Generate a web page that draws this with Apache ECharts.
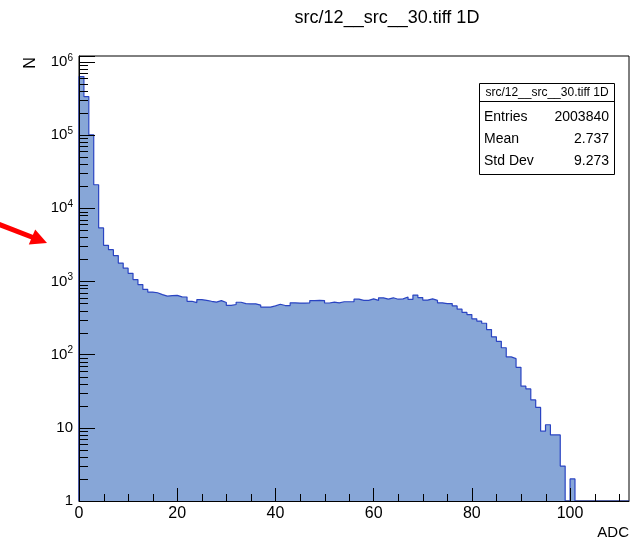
<!DOCTYPE html>
<html><head><meta charset="utf-8">
<script src="https://cdn.jsdelivr.net/npm/echarts@6/dist/echarts.min.js"></script>
<style>html,body{margin:0;padding:0;background:#fff}#c{width:635px;height:542px}</style>
</head><body><div id="c"></div>
<script>
const histTitle = 'src/12__src__30.tiff 1D';
const xAxisTitle = 'ADC';
const yAxisTitle = 'N';
const binWidth = 1;
const xMin = 0, xMax = 112;
const yMin = 1, yMax = 1.2e6;
// counts per ADC bin (bin i covers [i, i+1))
const counts = [
  628000, 335000, 100700, 20900, 5370, 3110, 2715, 2250, 1778, 1518,
  1291, 1059, 904, 778, 715, 700, 660, 628, 640, 645,
  615, 612, 535, 514, 565, 550, 535, 522, 547, 514,
  470, 483, 519, 498, 494, 494, 475, 446, 446, 463,
  487, 468, 468, 510, 505, 505, 510, 547, 550, 547,
  507, 522, 510, 527, 527, 527, 572, 550, 550, 578,
  550, 597, 572, 597, 571, 578, 612, 568, 650, 601,
  556, 578, 550, 510, 498, 498, 463, 418, 377, 352,
  308, 287, 268, 220, 175, 152, 124, 93, 88, 67,
  37, 34, 24, 19, 9, 11, 8, 8, 3, 0,
  2, 0, 0, 0, 0, 0, 0, 0, 0, 0,
  0, 0
];
const xTickLabels = [0, 20, 40, 60, 80, 100];
const xMajorStep = 20, xMinorStep = 5;
const yMinorMultipliers = [2, 3, 4, 5, 6, 7, 8, 9];
const yDecadeExponents = [0, 1, 2, 3, 4, 5];
const statsLabels = ['Entries', 'Mean', 'Std Dev'];
const statsValues = ['2003840', '2.737', '9.273'];

const FONT = 'Liberation Sans, Arial, Helvetica, sans-serif';

// outline / fill through step line
const lineData = [[xMin, yMin]];
counts.forEach((c, i) => lineData.push([i * binWidth, Math.max(c, yMin)]));
lineData.push([counts.length * binWidth, Math.max(counts[counts.length - 1], yMin)]);

const yMinorData = [];
yDecadeExponents.forEach(e => yMinorMultipliers.forEach(m => {
  const v = m * Math.pow(10, e);
  if (v < yMax) yMinorData.push([xMin, v]);
}));
const xMinorData = [];
for (let v = xMinorStep; v < xMax; v += xMinorStep) {
  if (v % xMajorStep !== 0) xMinorData.push([v, yMin]);
}

const chart = echarts.init(document.getElementById('c'), null, {renderer: 'canvas'});
chart.setOption({
  animation: false,
  backgroundColor: '#fff',
  grid: {left: 79, top: 56, right: 6, bottom: 41, show: true, borderColor: '#000', borderWidth: 1, containLabel: false, outerBoundsMode: 'none'},
  xAxis: {
    type: 'value', min: xMin, max: xMax, interval: xMajorStep, z: 5,
    axisLine: {show: true, onZero: false, lineStyle: {color: '#000', width: 1}},
    axisTick: {show: true, inside: true, length: 13, lineStyle: {color: '#000'}},
    axisLabel: {color: '#000', fontSize: 16, fontFamily: FONT, margin: 5, showMaxLabel: false,
      formatter: v => xTickLabels.indexOf(v) >= 0 ? String(v) : ''},
    splitLine: {show: false}
  },
  yAxis: {
    type: 'log', logBase: 10, min: yMin, max: yMax, z: 5,
    axisLine: {show: true, onZero: false, lineStyle: {color: '#000', width: 1}},
    axisTick: {show: true, inside: true, length: 16, lineStyle: {color: '#000'}},
    axisLabel: {color: '#000', fontSize: 15, fontFamily: FONT, margin: 6,
      formatter: v => {
        const e = Math.log10(v), r = Math.round(e);
        if (Math.abs(e - r) > 1e-6) return '';
        if (r === 0) return '1';
        if (r === 1) return '10';
        return '10{s|' + r + '}';
      },
      rich: {s: {fontSize: 10, fontFamily: FONT, color: '#000', padding: [0, 0, 8, 0]}}
    },
    splitLine: {show: false}
  },
  series: [
    {
      type: 'line', data: lineData, step: 'end', showSymbol: false, symbol: 'none',
      lineStyle: {color: '#2a44c2', width: 1.2},
      areaStyle: {color: '#87a6d7', opacity: 1, origin: 'start'},
      z: 2, silent: true
    },
    {
      type: 'custom', data: yMinorData, z: 10, silent: true,
      renderItem: (params, api) => {
        const p = api.coord([api.value(0), api.value(1)]);
        const y = Math.round(p[1]) + 0.5;
        return {type: 'line', shape: {x1: p[0], y1: y, x2: p[0] + 9, y2: y}, style: {stroke: '#000', lineWidth: 1}};
      }
    },
    {
      type: 'custom', data: xMinorData, z: 10, silent: true,
      renderItem: (params, api) => {
        const p = api.coord([api.value(0), api.value(1)]);
        const x = Math.round(p[0]) + 0.5;
        return {type: 'line', shape: {x1: x, y1: p[1], x2: x, y2: p[1] - 7}, style: {stroke: '#000', lineWidth: 1}};
      }
    }
  ],
  graphic: [
    {type: 'text', x: 387, y: 18, style: {text: histTitle, font: '18px ' + FONT, fill: '#000', align: 'center', verticalAlign: 'middle'}},
    {type: 'text', x: 629, y: 533, style: {text: xAxisTitle, font: '15px ' + FONT, fill: '#000', align: 'right', verticalAlign: 'middle'}},
    {type: 'text', x: 31, y: 63, rotation: Math.PI / 2, style: {text: yAxisTitle, font: '16px ' + FONT, fill: '#000', align: 'center', verticalAlign: 'middle'}},
    {type: 'rect', z: 20, shape: {x: 479.5, y: 83.5, width: 135, height: 91}, style: {fill: '#fff', stroke: '#000', lineWidth: 1}},
    {type: 'line', z: 21, shape: {x1: 479.5, y1: 101.5, x2: 614.5, y2: 101.5}, style: {stroke: '#000', lineWidth: 1}},
    {type: 'text', z: 21, x: 547, y: 92.5, style: {text: histTitle, font: '12px ' + FONT, fill: '#000', align: 'center', verticalAlign: 'middle'}},
    ...statsLabels.map((t, i) => ({type: 'text', z: 21, x: 484, y: 117 + i * 22, style: {text: t, font: '14px ' + FONT, fill: '#000', align: 'left', verticalAlign: 'middle'}})),
    ...statsValues.map((t, i) => ({type: 'text', z: 21, x: 609, y: 117 + i * 22, style: {text: t, font: '14px ' + FONT, fill: '#000', align: 'right', verticalAlign: 'middle'}})),
    {type: 'line', z: 30, shape: {x1: -2, y1: 224, x2: 33, y2: 237.5}, style: {stroke: '#ff0000', lineWidth: 5}},
    {type: 'polygon', z: 30, shape: {points: [[47, 243], [35.2, 229.4], [28.8, 244.6]]}, style: {fill: '#ff0000'}}
  ]
});
</script></body></html>
